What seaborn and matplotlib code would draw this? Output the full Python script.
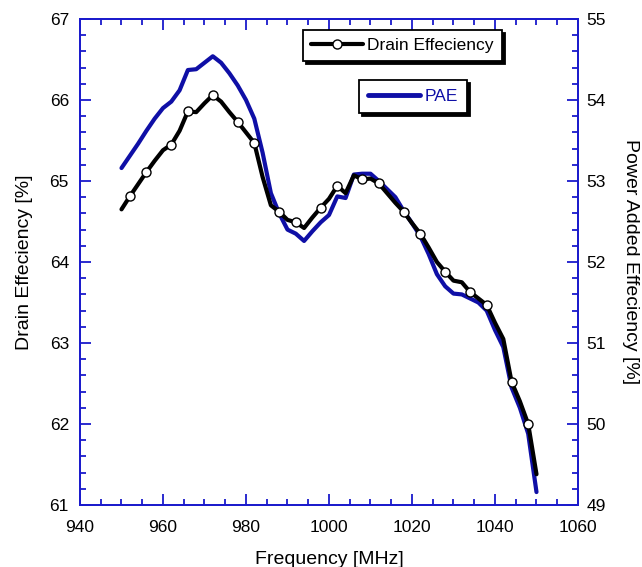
import numpy as np
import pandas as pd
import matplotlib
matplotlib.use("Agg")
import matplotlib.pyplot as plt
from matplotlib.lines import Line2D
from matplotlib.ticker import MultipleLocator
import seaborn as sns

# frequency grid [MHz]
freq = np.arange(950, 1051, 2)

# drain efficiency [%] (left axis)
drain_eff = [64.65, 64.81, 64.96, 65.11, 65.25, 65.38, 65.45, 65.62, 65.86, 65.85,
             65.96, 66.06, 65.98, 65.85, 65.73, 65.60, 65.47, 65.05, 64.70, 64.62,
             64.52, 64.49, 64.42, 64.55, 64.67, 64.78, 64.94, 64.85, 65.07, 65.02,
             65.03, 64.97, 64.85, 64.73, 64.62, 64.48, 64.35, 64.18, 64.00, 63.88,
             63.77, 63.75, 63.63, 63.55, 63.47, 63.25, 63.05, 62.52, 62.28, 62.00,
             61.38]

# power added efficiency [%] (right axis)
pae = [53.16, 53.31, 53.46, 53.62, 53.77, 53.90, 53.98, 54.12, 54.37, 54.38,
       54.46, 54.54, 54.46, 54.33, 54.18, 54.00, 53.77, 53.35, 52.85, 52.60,
       52.40, 52.35, 52.26, 52.38, 52.49, 52.58, 52.81, 52.79, 53.08, 53.09,
       53.09, 53.00, 52.90, 52.80, 52.63, 52.48, 52.32, 52.10, 51.85, 51.70,
       51.61, 51.60, 51.55, 51.50, 51.40, 51.16, 50.95, 50.45, 50.20, 49.88,
       49.16]

# frequencies where the drain efficiency markers are drawn
marker_freq = [952, 956, 962, 966, 972, 978, 982, 988, 992, 998, 1002, 1008,
               1012, 1018, 1022, 1028, 1034, 1038, 1044, 1048]

df = pd.DataFrame({"Frequency": freq, "Drain": drain_eff, "PAE": pae})
mark_idx = [int(np.where(freq == f)[0][0]) for f in marker_freq]

sns.set_style("ticks")
plt.rcParams["font.family"] = ["Liberation Sans", "DejaVu Sans"]
plt.rcParams["text.color"] = "black"
plt.rcParams["axes.labelcolor"] = "black"

axis_blue = "#1a1acc"
line_blue = "#0f0fa6"
tick_fs = 12.5
label_fs = 14

fig = plt.figure(figsize=(6.42, 5.67), dpi=100)
ax = fig.add_axes([0.1246, 0.1093, 0.7757, 0.8572])
ax2 = ax.twinx()

sns.lineplot(data=df, x="Frequency", y="PAE", ax=ax2, color=line_blue,
             linewidth=3.0, zorder=2)
sns.lineplot(data=df, x="Frequency", y="Drain", ax=ax, color="black",
             linewidth=3.0, marker="o", markersize=6.5, markerfacecolor="white",
             markeredgecolor="black", markeredgewidth=1.0, markevery=mark_idx)
# draw the left axis (black line) above the PAE line
ax.set_zorder(ax2.get_zorder() + 1)
ax.patch.set_visible(False)

ax.set_xlim(940, 1060)
ax.set_ylim(61, 67)
ax2.set_ylim(49, 55)

ax.xaxis.set_major_locator(MultipleLocator(20))
ax.xaxis.set_minor_locator(MultipleLocator(5))
ax.yaxis.set_major_locator(MultipleLocator(1))
ax.yaxis.set_minor_locator(MultipleLocator(0.2))
ax2.yaxis.set_major_locator(MultipleLocator(1))
ax2.yaxis.set_minor_locator(MultipleLocator(0.2))

for a in (ax, ax2):
    for s in a.spines.values():
        s.set_color(axis_blue)
        s.set_linewidth(1.3)
ax.tick_params(axis="x", which="both", direction="in", top=True, bottom=True,
               color=axis_blue, labelsize=tick_fs, labelcolor="black", pad=11)
ax.tick_params(axis="y", which="both", direction="in", left=True, right=False,
               color=axis_blue, labelsize=tick_fs, labelcolor="black", pad=8)
ax2.tick_params(axis="y", which="both", direction="in", right=True,
                color=axis_blue, labelsize=tick_fs, labelcolor="black", pad=6)
for a in (ax, ax2):
    a.tick_params(which="major", length=8, width=1.3)
    a.tick_params(which="minor", length=4, width=1.3)

ax.set_xlabel("Frequency [MHz]", fontsize=label_fs, labelpad=11)
ax.set_ylabel("Drain Effeciency [%]", fontsize=label_fs, labelpad=12)
ax2.set_ylabel("Power Added Effeciency [%]", fontsize=label_fs, rotation=270,
               labelpad=24)

h_de = Line2D([], [], color="black", linewidth=3.0, marker="o", markersize=6.5,
              markerfacecolor="white", markeredgecolor="black", markeredgewidth=1.0)
h_pae = Line2D([], [], color=line_blue, linewidth=3.5)

shadow = {"color": "black", "alpha": 1.0}
leg1 = ax.legend([h_de], ["Drain Effeciency"], loc="upper right",
                 bbox_to_anchor=(0.847, 0.977), borderaxespad=0, fancybox=False,
                 shadow=shadow, framealpha=1, edgecolor="black", fontsize=tick_fs,
                 handlelength=3.0, borderpad=0.45, handletextpad=0.25)
leg1.get_frame().set_linewidth(1.3)
ax.add_artist(leg1)
leg2 = ax.legend([h_pae], ["PAE"], loc="upper right",
                 bbox_to_anchor=(0.777, 0.874), borderaxespad=0, fancybox=False,
                 shadow=shadow, framealpha=1, edgecolor="black", fontsize=tick_fs,
                 handlelength=3.0, borderpad=0.5, handletextpad=0.3,
                 labelcolor=line_blue)
leg2.get_frame().set_linewidth(1.3)

fig.savefig("out.png", dpi=100)
